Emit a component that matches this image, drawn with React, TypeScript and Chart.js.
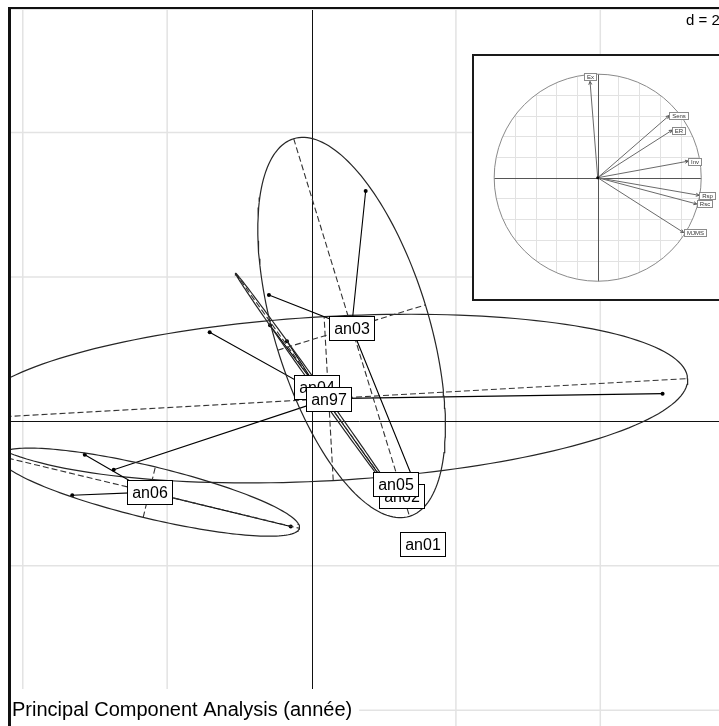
import React, { useEffect, useRef } from "react";
import { Chart, registerables } from "chart.js";

Chart.register(...registerables);

// Year classes, in factor-level order (later ones are drawn on top)
const years = ["an01", "an02", "an03", "an04", "an05", "an06", "an97"];

// Row scores on the first two principal components, per year
const an01X = [1.534];
const an01Y = [-1.7];
const an02X = [1.25];
const an02Y = [-1.04];
const an03X = [0.75, -0.59, 1.505];
const an03Y = [3.19, 1.75, -1.04];
const an04X = [-0.575, -0.34, 1.12];
const an04Y = [1.33, 1.11, -1.0];
const an05X = [1.164];
const an05Y = [-0.863];
const an06X = [-3.141, -3.315, -0.288];
const an06Y = [-0.462, -1.023, -1.456];
const an97X = [4.863, -2.74, -1.411];
const an97Y = [0.384, -0.671, 1.233];

const classX = [an01X, an02X, an03X, an04X, an05X, an06X, an97X];
const classY = [an01Y, an02Y, an03Y, an04Y, an05Y, an06Y, an97Y];

// Variable correlations with the two components (correlation circle)
const varNames = ["Ex", "Sens", "ER", "Inv", "Rsp", "Rsc", "MJMS"];
const varX = [-0.074, 0.69, 0.72, 0.875, 0.98, 0.957, 0.83];
const varY = [0.93, 0.6, 0.46, 0.16, -0.17, -0.254, -0.53];

// Grid mesh and window of the factor map
const GRID_D = 2;
const X_MIN = -4.26;
const X_MAX = 5.589;
const Y_MIN = -4.164;
const Y_MAX = 5.781;

// Window of the correlation circle
const C_GRID = 0.2;
const CX_MIN = -1.195;
const CX_MAX = 1.278;
const CY_MIN = -1.172;
const CY_MAX = 1.176;

const TITLE = "Principal Component Analysis (ann\u00e9e)";
const ELLIPSE_SIZE = 1.5;

const FONT = '"Liberation Sans", Arial, Helvetica, sans-serif';

type Pt = { x: number; y: number };

// Mean, inertia ellipse (population covariance) of a class
function classStats(xs: number[], ys: number[]) {
  const n = xs.length;
  const mx = xs.reduce((s, v) => s + v, 0) / n;
  const my = ys.reduce((s, v) => s + v, 0) / n;
  let vx = 0,
    vy = 0,
    c = 0;
  for (let i = 0; i < n; i++) {
    vx += (xs[i] - mx) ** 2;
    vy += (ys[i] - my) ** 2;
    c += (xs[i] - mx) * (ys[i] - my);
  }
  vx /= n;
  vy /= n;
  c /= n;
  const tr = vx + vy;
  const det = vx * vy - c * c;
  const disc = Math.sqrt(Math.max(tr * tr / 4 - det, 0));
  const l1 = tr / 2 + disc;
  const l2 = Math.max(tr / 2 - disc, 0);
  let ux = 1,
    uy = 0;
  if (Math.abs(c) > 1e-12) {
    ux = l1 - vy;
    uy = c;
  } else if (vy > vx) {
    ux = 0;
    uy = 1;
  }
  const nrm = Math.hypot(ux, uy) || 1;
  ux /= nrm;
  uy /= nrm;
  return {
    mx,
    my,
    a: ELLIPSE_SIZE * Math.sqrt(l1),
    b: ELLIPSE_SIZE * Math.sqrt(l2),
    ux,
    uy,
  };
}

function FactorMap() {
  const ref = useRef<HTMLCanvasElement>(null);

  useEffect(() => {
    const canvas = ref.current;
    if (!canvas) return;
    const stats = years.map((_, i) => classStats(classX[i], classY[i]));
    const datasets: any[] = [];

    years.forEach((name, i) => {
      const xs = classX[i];
      const ys = classY[i];
      const s = stats[i];
      if (xs.length > 1) {
        // inertia ellipse
        const curve: Pt[] = [];
        for (let k = 0; k <= 180; k++) {
          const t = (k / 180) * Math.PI * 2;
          const ca = Math.cos(t) * s.a;
          const sb = Math.sin(t) * s.b;
          curve.push({ x: s.mx + ca * s.ux - sb * s.uy, y: s.my + ca * s.uy + sb * s.ux });
        }
        datasets.push({
          label: name + " ellipse",
          data: curve,
          showLine: true,
          borderColor: "#262626",
          borderWidth: 1.2,
          pointRadius: 0,
          fill: false,
        });
        // ellipse axes
        datasets.push({
          label: name + " major",
          data: [
            { x: s.mx - s.a * s.ux, y: s.my - s.a * s.uy },
            { x: s.mx + s.a * s.ux, y: s.my + s.a * s.uy },
          ],
          showLine: true,
          borderColor: "#333",
          borderWidth: 1.1,
          borderDash: [6, 3],
          pointRadius: 0,
        });
        datasets.push({
          label: name + " minor",
          data: [
            { x: s.mx + s.b * s.uy, y: s.my - s.b * s.ux },
            { x: s.mx - s.b * s.uy, y: s.my + s.b * s.ux },
          ],
          showLine: true,
          borderColor: "#333",
          borderWidth: 1.1,
          borderDash: [6, 3],
          pointRadius: 0,
        });
        // star from each row to the class mean
        const star: Pt[] = [];
        xs.forEach((x, k) => {
          if (k > 0) star.push({ x: s.mx, y: s.my });
          star.push({ x, y: ys[k] });
          if (k === 0) star.push({ x: s.mx, y: s.my });
        });
        datasets.push({
          label: name + " star",
          data: star,
          showLine: true,
          borderColor: "#000",
          borderWidth: 1.1,
          pointRadius: 0,
        });
      }
      datasets.push({
        label: name,
        data: xs.map((x, k) => ({ x, y: ys[k] })),
        showLine: false,
        pointRadius: 2,
        pointBackgroundColor: "#000",
        pointBorderWidth: 0,
      });
    });

    const decor = {
      id: "decor",
      beforeDatasetsDraw(chart: any) {
        const { ctx } = chart;
        const x = chart.scales.x;
        const y = chart.scales.y;
        const W = chart.width;
        const H = chart.height;
        ctx.save();
        ctx.fillStyle = "#fff";
        ctx.fillRect(0, 0, W, H);
        ctx.strokeStyle = "#e3e3e3";
        ctx.lineWidth = 1.5;
        ctx.beginPath();
        for (let v = Math.ceil(x.min / GRID_D) * GRID_D; v <= x.max; v += GRID_D) {
          if (Math.abs(v) < 1e-9) continue;
          const p = x.getPixelForValue(v);
          ctx.moveTo(p, 0);
          ctx.lineTo(p, H);
        }
        for (let v = Math.ceil(y.min / GRID_D) * GRID_D; v <= y.max; v += GRID_D) {
          if (Math.abs(v) < 1e-9) continue;
          const p = y.getPixelForValue(v);
          ctx.moveTo(0, p);
          ctx.lineTo(W, p);
        }
        ctx.stroke();
        ctx.strokeStyle = "#111";
        ctx.lineWidth = 1;
        ctx.beginPath();
        const x0 = Math.round(x.getPixelForValue(0)) + 0.5;
        const y0 = Math.round(y.getPixelForValue(0)) + 0.5;
        ctx.moveTo(x0, 0);
        ctx.lineTo(x0, H);
        ctx.moveTo(0, y0);
        ctx.lineTo(W, y0);
        ctx.stroke();
        ctx.restore();
      },
      afterDatasetsDraw(chart: any) {
        const { ctx } = chart;
        const x = chart.scales.x;
        const y = chart.scales.y;
        const W = chart.width;
        const H = chart.height;
        ctx.save();
        // class labels at the class means
        ctx.font = "16px " + FONT;
        ctx.textAlign = "center";
        ctx.textBaseline = "middle";
        years.forEach((name, i) => {
          const s = stats[i];
          const px = x.getPixelForValue(s.mx);
          const py = y.getPixelForValue(s.my);
          const w = Math.round(ctx.measureText(name).width + 9);
          const h = 24;
          const l = Math.round(px - w / 2) + 0.5;
          const t = Math.round(py - h / 2) + 0.5;
          ctx.fillStyle = "#fff";
          ctx.fillRect(l, t, w, h);
          ctx.strokeStyle = "#000";
          ctx.lineWidth = 1;
          ctx.strokeRect(l, t, w, h);
          ctx.fillStyle = "#000";
          ctx.fillText(name, l + w / 2, t + h / 2 + 1);
        });

        // outside of the plotting frame
        ctx.fillStyle = "#fff";
        ctx.fillRect(0, 0, W, 7);
        ctx.fillRect(0, 0, 8, H);
        ctx.fillStyle = "#111";
        ctx.fillRect(8, 7, W - 8, 2);
        ctx.fillRect(8, 7, 3, H - 7);
        ctx.fillStyle = "#e3e3e3";
        ctx.fillRect(11, 9, W - 11, 1);

        // grid mesh legend
        ctx.font = "15px " + FONT;
        ctx.textAlign = "left";
        ctx.textBaseline = "alphabetic";
        ctx.fillStyle = "#fff";
        ctx.fillRect(676, 10, W - 676, 19);
        ctx.fillStyle = "#000";
        ctx.fillText("d = " + GRID_D, 686, 25);

        // subtitle
        ctx.font = "20px " + FONT;
        const tw = ctx.measureText(TITLE).width;
        ctx.fillStyle = "#fff";
        ctx.fillRect(11, 689, tw + 8, H - 689);
        ctx.fillStyle = "#000";
        ctx.fillText(TITLE, 12, 716);
        ctx.restore();
      },
    };

    const chart = new Chart(canvas, {
      type: "scatter",
      data: { datasets },
      options: {
        animation: false,
        responsive: false,
        devicePixelRatio: 1,
        events: [],
        layout: { padding: 0 },
        plugins: { legend: { display: false }, tooltip: { enabled: false }, title: { display: false } },
        elements: { line: { tension: 0 } },
        scales: {
          x: { type: "linear", display: false, min: X_MIN, max: X_MAX },
          y: { type: "linear", display: false, min: Y_MIN, max: Y_MAX },
        },
      } as any,
      plugins: [decor],
    });
    return () => chart.destroy();
  }, []);

  return (
    <canvas
      ref={ref}
      width={719}
      height={726}
      style={{ position: "absolute", left: 0, top: 0, width: 719, height: 726 }}
    />
  );
}

function CorrelationCircle() {
  const ref = useRef<HTMLCanvasElement>(null);

  useEffect(() => {
    const canvas = ref.current;
    if (!canvas) return;
    const datasets = varNames.map((name, i) => ({
      label: name,
      data: [
        { x: 0, y: 0 },
        { x: varX[i], y: varY[i] },
      ],
      showLine: true,
      borderColor: "#6a6a6a",
      borderWidth: 1,
      pointRadius: 0,
    }));

    const circle = {
      id: "circle",
      beforeDatasetsDraw(chart: any) {
        const { ctx } = chart;
        const x = chart.scales.x;
        const y = chart.scales.y;
        const cx = x.getPixelForValue(0);
        const cy = y.getPixelForValue(0);
        const r = x.getPixelForValue(1) - cx;
        ctx.save();
        ctx.fillStyle = "#fff";
        ctx.fillRect(0, 0, chart.width, chart.height);
        ctx.save();
        ctx.beginPath();
        ctx.arc(cx, cy, r, 0, Math.PI * 2);
        ctx.clip();
        ctx.strokeStyle = "#e2e2e2";
        ctx.lineWidth = 1;
        ctx.beginPath();
        for (let v = -1; v <= 1.0001; v += C_GRID) {
          const px = Math.round(x.getPixelForValue(v)) + 0.5;
          const py = Math.round(y.getPixelForValue(v)) + 0.5;
          ctx.moveTo(px, cy - r);
          ctx.lineTo(px, cy + r);
          ctx.moveTo(cx - r, py);
          ctx.lineTo(cx + r, py);
        }
        ctx.stroke();
        ctx.restore();
        ctx.strokeStyle = "#555";
        ctx.lineWidth = 1;
        ctx.beginPath();
        const ax = Math.round(cx) + 0.5;
        const ay = Math.round(cy) + 0.5;
        ctx.moveTo(cx - r, ay);
        ctx.lineTo(cx + r, ay);
        ctx.moveTo(ax, cy - r);
        ctx.lineTo(ax, cy + r);
        ctx.stroke();
        ctx.strokeStyle = "#8a8a8a";
        ctx.beginPath();
        ctx.arc(cx, cy, r, 0, Math.PI * 2);
        ctx.stroke();
        ctx.restore();
      },
      afterDatasetsDraw(chart: any) {
        const { ctx } = chart;
        const x = chart.scales.x;
        const y = chart.scales.y;
        const cx = x.getPixelForValue(0);
        const cy = y.getPixelForValue(0);
        ctx.save();
        ctx.fillStyle = "#000";
        ctx.beginPath();
        ctx.arc(cx, cy, 1.5, 0, Math.PI * 2);
        ctx.fill();
        ctx.font = "6px " + FONT;
        ctx.textAlign = "center";
        ctx.textBaseline = "middle";
        varNames.forEach((name, i) => {
          const ex = x.getPixelForValue(varX[i]);
          const ey = y.getPixelForValue(varY[i]);
          const ang = Math.atan2(ey - cy, ex - cx);
          // arrow head
          ctx.strokeStyle = "#555";
          ctx.lineWidth = 1;
          ctx.beginPath();
          for (const d of [-0.45, 0.45]) {
            ctx.moveTo(ex, ey);
            ctx.lineTo(ex - 3.5 * Math.cos(ang + d), ey - 3.5 * Math.sin(ang + d));
          }
          ctx.stroke();
          // label box placed outside the arrow tip
          const w = Math.round(ctx.measureText(name).width + 5);
          const h = 7;
          let lx = ex;
          let ly = ey;
          const vx = varX[i];
          const vy = varY[i];
          if (Math.abs(vx) >= Math.abs(vy)) lx = ex + Math.sign(vx) * w / 2;
          else ly = ey - Math.sign(vy) * (h / 2 + 1.5);
          const l = Math.round(lx - w / 2) + 0.5;
          const t = Math.round(ly - h / 2) + 0.5;
          ctx.fillStyle = "#fff";
          ctx.fillRect(l, t, w, h);
          ctx.strokeStyle = "#8a8a8a";
          ctx.strokeRect(l, t, w, h);
          ctx.fillStyle = "#333";
          ctx.fillText(name, l + w / 2, t + h / 2 + 0.5);
        });
        ctx.restore();
      },
    };

    const chart = new Chart(canvas, {
      type: "scatter",
      data: { datasets },
      options: {
        animation: false,
        responsive: false,
        devicePixelRatio: 1,
        events: [],
        layout: { padding: 0 },
        plugins: { legend: { display: false }, tooltip: { enabled: false } },
        scales: {
          x: { type: "linear", display: false, min: CX_MIN, max: CX_MAX },
          y: { type: "linear", display: false, min: CY_MIN, max: CY_MAX },
        },
      } as any,
      plugins: [circle],
    });
    return () => chart.destroy();
  }, []);

  return (
    <div
      style={{
        position: "absolute",
        left: 472,
        top: 54,
        width: 260,
        height: 247,
        boxSizing: "border-box",
        border: "2px solid #1a1a1a",
        background: "#fff",
      }}
    >
      <canvas ref={ref} width={256} height={243} style={{ display: "block", width: 256, height: 243 }} />
    </div>
  );
}

export default function App() {
  return (
    <div
      style={{
        position: "fixed",
        left: 0,
        top: 0,
        width: 719,
        height: 726,
        overflow: "hidden",
        background: "#fff",
      }}
    >
      <FactorMap />
      <CorrelationCircle />
    </div>
  );
}
